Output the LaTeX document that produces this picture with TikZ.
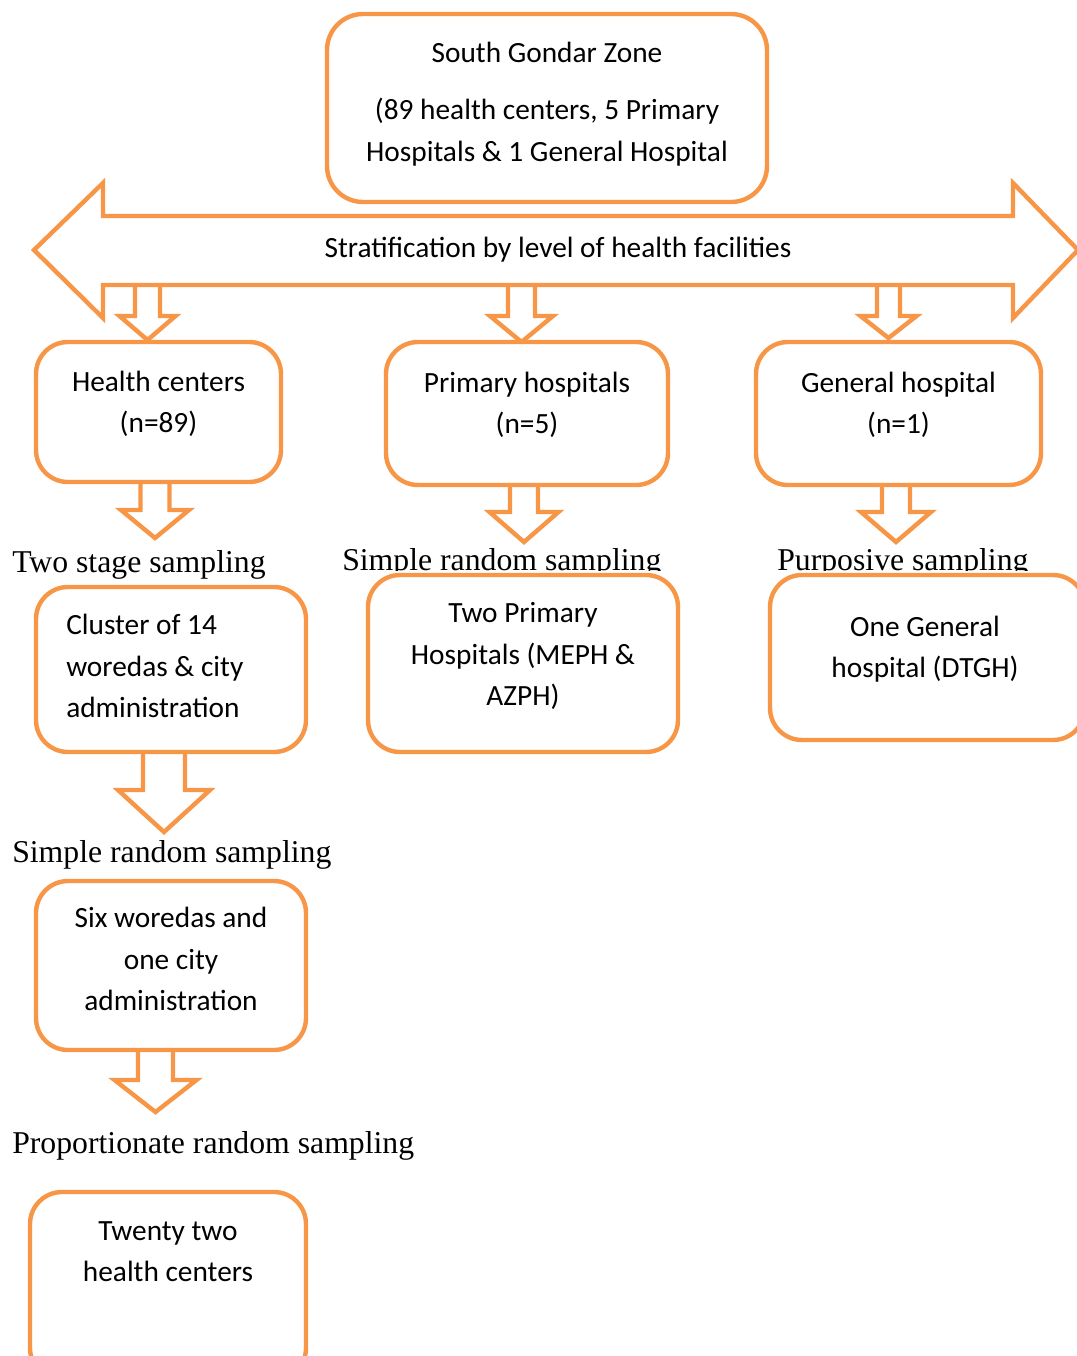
\documentclass[tikz,border=0pt]{standalone}
\usepackage{fontspec}
\setmainfont{Carlito}
\newfontfamily\tnr{Liberation Serif}
\definecolor{og}{HTML}{F79646}
\tikzset{
  box/.style 2 args={draw=og, line width=3.3pt, rounded corners=24pt, fill=white,
     minimum width=#1*0.75pt, minimum height=#2*0.75pt, inner sep=0pt},
  txt/.style={anchor=base, inner sep=0pt, font=\fontsize{22}{31.5}\selectfont},
  lbl/.style={anchor=base west, inner sep=0pt, font=\tnr\fontsize{23.8}{28}\selectfont},
  barrow/.style={draw=og, line width=3.3pt, line join=miter},
  cutter/.style={fill=white, draw=none}
}
\newcommand\blockarr[6]{% cx, top, shaft hw, neck, head hw, tip
  \draw[barrow] ({#1-#3},#2) -- ({#1-#3},#4) -- ({#1-#5},#4) -- (#1,#6) -- ({#1+#5},#4) -- ({#1+#3},#4) -- ({#1+#3},#2);}
\begin{document}
\begin{tikzpicture}[x=0.75pt,y=-0.75pt]
\useasboundingbox (0,0) rectangle (1076,1356);
% labels first (boxes drawn on top cut them)
\node[lbl] (l1) at (12,572) {Two stage sampling};
\node[lbl] (l2) at (342,570) {Simple random sampling};
\node[lbl] (l3) at (777,570) {Purposive sampling};
\node[lbl] (l4) at (12,862) {Simple random sampling};
\node[lbl] (l5) at (12,1153) {Proportionate random sampling};
% white frames of the label text boxes, clipping the descenders
\fill[cutter] (340,571) rectangle (700,580);
\fill[cutter] (770,571) rectangle (1076,580);
% top box
\node[box={440}{188}, rounded corners=27pt] (top) at (547,108) {};
\node[txt] (t1) at (547,62) {South Gondar Zone};
\node[txt] (t2) at (547,119) {(89 health centers, 5 Primary};
\node[txt] (t3) at (547,161) {Hospitals \& 1 General Hospital};
% double arrow
\draw[barrow] (34,250) -- (103,183) -- (103,216) -- (1013,216) -- (1013,183) -- (1078,250)
  -- (1013,318) -- (1013,285) -- (103,285) -- (103,318) -- cycle;
\node[txt] (strat) at (558,257) {Stratification by level of health facilities};
% arrows from stratification
\blockarr{147.5}{286.5}{12.5}{316}{28}{340}
\blockarr{521.5}{286.5}{13.5}{316}{31.5}{342}
\blockarr{888.5}{286.5}{11.5}{316}{28}{338}
% second row boxes
\node[box={245}{140}] (hc) at (158.5,412) {};
\node[txt] (hc1) at (158.5,391) {Health centers};
\node[txt] (hc2) at (158.5,432) {(n=89)};
\node[box={282}{143}] (ph) at (527,413.5) {};
\node[txt] (ph1) at (527,392) {Primary hospitals};
\node[txt] (ph2) at (527,433) {(n=5)};
\node[box={285}{143}] (gh) at (898.5,413.5) {};
\node[txt] (gh1) at (898.5,392) {General hospital};
\node[txt] (gh2) at (898.5,433) {(n=1)};
% arrows from second row
\blockarr{155}{484}{14.5}{510}{34}{538}
\blockarr{524}{486.5}{14}{512}{34.5}{542}
\blockarr{896}{486.5}{14}{512}{35}{542}
% third row
\node[box={270}{165}] (cl) at (171,669.5) {};
\node[txt, anchor=base west] (cl1) at (66,634) {Cluster of 14};
\node[txt, anchor=base west] (cl2) at (66,676) {woredas \& city};
\node[txt, anchor=base west] (cl3) at (66,717) {administration};
\node[box={310}{177}] (tp) at (523,663.5) {};
\node[txt] (tp1) at (523,622) {Two Primary};
\node[txt] (tp2) at (523,664) {Hospitals (MEPH \&};
\node[txt] (tp3) at (523,705) {AZPH)};
\node[box={315}{165}] (og1) at (927.5,657.5) {};
\node[txt] (og2) at (925,636) {One General};
\node[txt] (og3) at (925,677) {hospital (DTGH)};
% arrow from cluster
\blockarr{164}{753.5}{21}{790}{46}{832}
% six woredas
\node[box={270}{169}] (six) at (171,965.5) {};
\node[txt] (s1) at (171,927) {Six woredas and};
\node[txt] (s2) at (171,969) {one city};
\node[txt] (s3) at (171,1010) {administration};
% arrow
\blockarr{155.5}{1051.5}{17.5}{1080}{41}{1112}
% twenty two
\node[box={276}{188}] (tw) at (168,1286) {};
\node[txt] (tw1) at (168,1240) {Twenty two};
\node[txt] (tw2) at (168,1281) {health centers};
\end{tikzpicture}
\end{document}
